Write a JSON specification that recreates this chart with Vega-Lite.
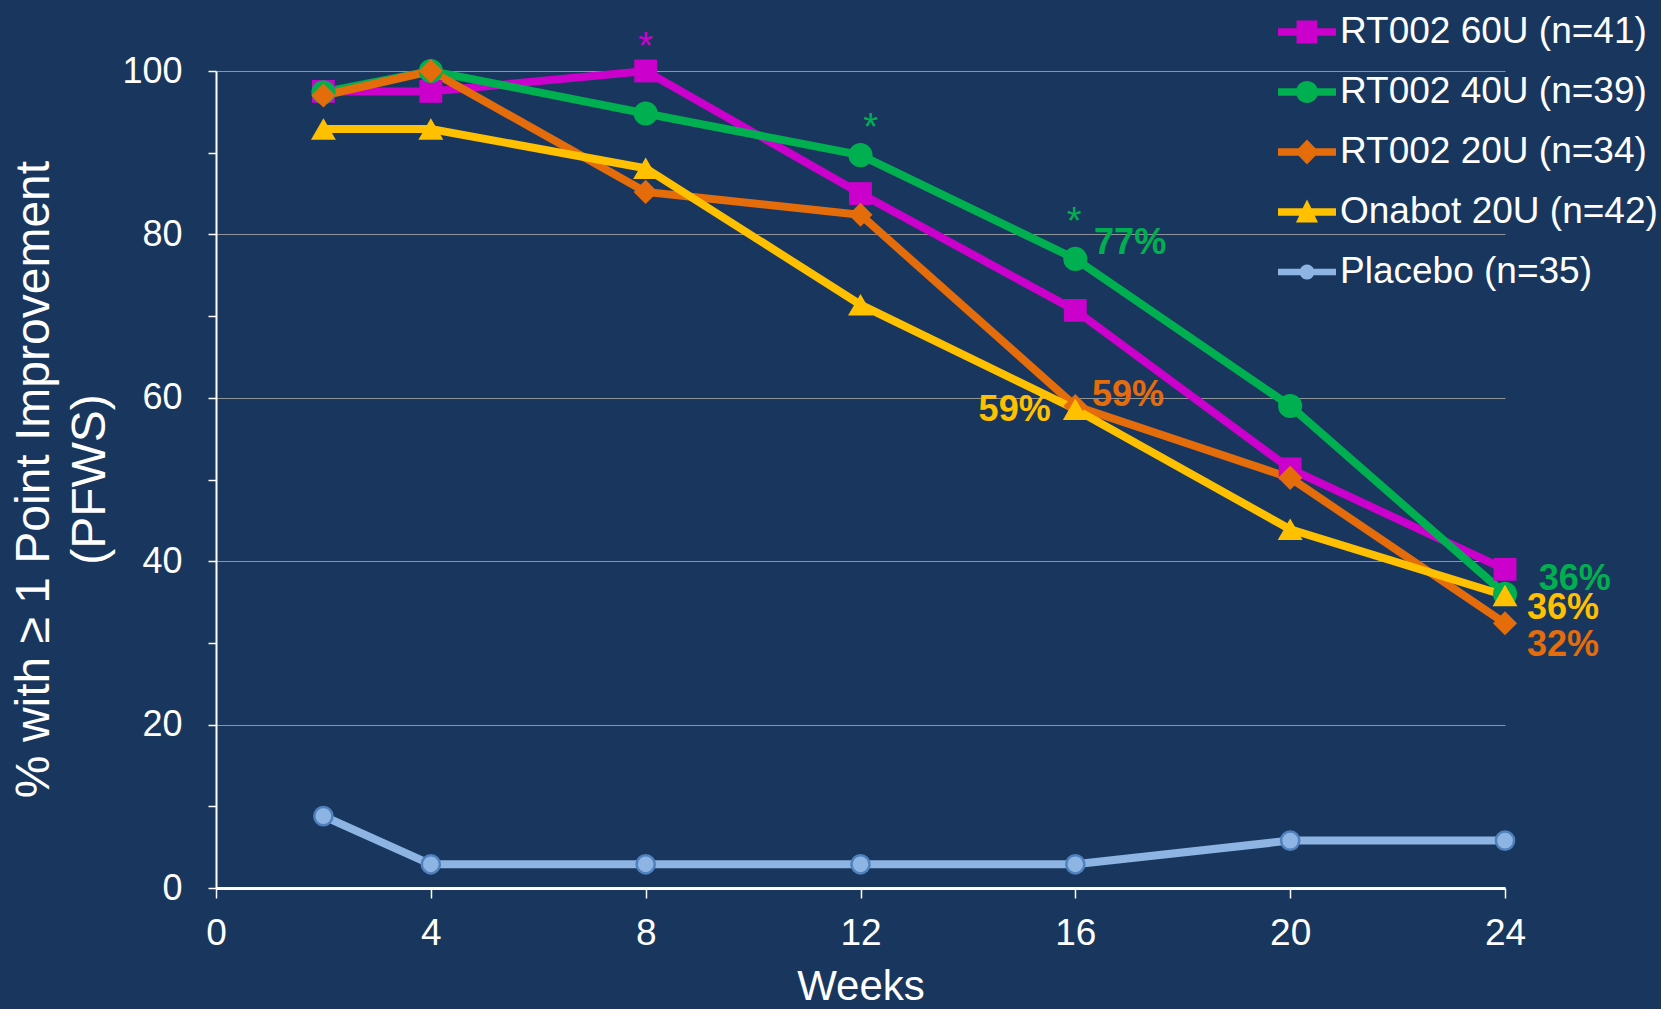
{
  "$schema": "https://vega.github.io/schema/vega-lite/v6.json",
  "width": 1289,
  "height": 817,
  "autosize": "none",
  "padding": {"left": 216, "top": 71, "right": 156, "bottom": 121},
  "background": "#19375e",
  "config": {"font": "Liberation Sans", "view": {"stroke": null}},
  "datasets": {
    "series": [
      {"series": "RT002 60U (n=41)", "week": 2, "value": 97.5},
      {"series": "RT002 60U (n=41)", "week": 4, "value": 97.5},
      {"series": "RT002 60U (n=41)", "week": 8, "value": 100},
      {"series": "RT002 60U (n=41)", "week": 12, "value": 85},
      {"series": "RT002 60U (n=41)", "week": 16, "value": 70.7},
      {"series": "RT002 60U (n=41)", "week": 20, "value": 51.3},
      {"series": "RT002 60U (n=41)", "week": 24, "value": 39},
      {"series": "RT002 40U (n=39)", "week": 2, "value": 97.4},
      {"series": "RT002 40U (n=39)", "week": 4, "value": 100},
      {"series": "RT002 40U (n=39)", "week": 8, "value": 94.8},
      {"series": "RT002 40U (n=39)", "week": 12, "value": 89.7},
      {"series": "RT002 40U (n=39)", "week": 16, "value": 77},
      {"series": "RT002 40U (n=39)", "week": 20, "value": 59},
      {"series": "RT002 40U (n=39)", "week": 24, "value": 36},
      {"series": "RT002 20U (n=34)", "week": 2, "value": 97},
      {"series": "RT002 20U (n=34)", "week": 4, "value": 100},
      {"series": "RT002 20U (n=34)", "week": 8, "value": 85.2},
      {"series": "RT002 20U (n=34)", "week": 12, "value": 82.4},
      {"series": "RT002 20U (n=34)", "week": 16, "value": 59},
      {"series": "RT002 20U (n=34)", "week": 20, "value": 50.2},
      {"series": "RT002 20U (n=34)", "week": 24, "value": 32.4},
      {"series": "Onabot 20U (n=42)", "week": 2, "value": 92.9},
      {"series": "Onabot 20U (n=42)", "week": 4, "value": 92.9},
      {"series": "Onabot 20U (n=42)", "week": 8, "value": 88.1},
      {"series": "Onabot 20U (n=42)", "week": 12, "value": 71.4},
      {"series": "Onabot 20U (n=42)", "week": 16, "value": 58.6},
      {"series": "Onabot 20U (n=42)", "week": 20, "value": 43.9},
      {"series": "Onabot 20U (n=42)", "week": 24, "value": 35.8},
      {"series": "Placebo (n=35)", "week": 2, "value": 8.8},
      {"series": "Placebo (n=35)", "week": 4, "value": 2.9},
      {"series": "Placebo (n=35)", "week": 8, "value": 2.9},
      {"series": "Placebo (n=35)", "week": 12, "value": 2.9},
      {"series": "Placebo (n=35)", "week": 16, "value": 2.9},
      {"series": "Placebo (n=35)", "week": 20, "value": 5.8},
      {"series": "Placebo (n=35)", "week": 24, "value": 5.8}
    ],
    "stars": [
      {"series": "RT002 60U (n=41)", "week": 8, "value": 101.5, "label": "*"},
      {"series": "RT002 40U (n=39)", "week": 12.19, "value": 91.5, "label": "*"},
      {"series": "RT002 40U (n=39)", "week": 15.98, "value": 80.1, "label": "*"}
    ],
    "pct": [
      {"series": "RT002 40U (n=39)", "week": 17.02, "value": 78.9, "label": "77%"},
      {"series": "RT002 20U (n=34)", "week": 16.98, "value": 60.3, "label": "59%"},
      {"series": "Onabot 20U (n=42)", "week": 14.87, "value": 58.5, "label": "59%"},
      {"series": "RT002 40U (n=39)", "week": 25.3, "value": 37.8, "label": "36%"},
      {"series": "Onabot 20U (n=42)", "week": 25.08, "value": 34.3, "label": "36%"},
      {"series": "RT002 20U (n=34)", "week": 25.08, "value": 29.7, "label": "32%"}
    ]
  },
  "encoding": {
    "x": {
      "field": "week",
      "type": "quantitative",
      "scale": {"domain": [0, 24], "nice": false, "zero": false},
      "axis": {
        "title": "Weeks",
        "values": [0, 4, 8, 12, 16, 20, 24],
        "grid": false,
        "domainColor": "white",
        "domainWidth": 3,
        "tickColor": "white",
        "tickSize": 10,
        "tickWidth": 1.5,
        "labelColor": "white",
        "labelFontSize": 37,
        "labelPadding": 17,
        "labelFlush": false,
        "titleColor": "white",
        "titleFontSize": 42,
        "titleFontWeight": "normal",
        "titlePadding": 15
      }
    },
    "y": {
      "field": "value",
      "type": "quantitative",
      "scale": {"domain": [0, 100], "nice": false},
      "axis": {
        "title": ["% with ≥ 1 Point  Improvement", "(PFWS)"],
        "values": [0, 10, 20, 30, 40, 50, 60, 70, 80, 90, 100],
        "labelExpr": "datum.value % 20 === 0 ? datum.label : ''",
        "grid": true,
        "gridColor": "#a6a6a6",
        "gridWidth": 1.2,
        "gridOpacity": {"condition": {"test": "datum.value % 20 === 0 && datum.value > 0", "value": 0.85}, "value": 0},
        "domainColor": "white",
        "domainWidth": 2,
        "tickColor": "white",
        "tickSize": 8,
        "tickWidth": 1.5,
        "labelColor": "white",
        "labelFontSize": 36,
        "labelPadding": 26,
        "labelFlush": false,
        "titleColor": "white",
        "titleFontSize": 48,
        "titleFontWeight": "normal",
        "titleLineHeight": 56,
        "titleBaseline": "middle",
        "titleX": -182,
        "titleY": 408
      }
    }
  },
  "layer": [
    {
      "data": {"name": "series"},
      "mark": {"type": "line", "strokeWidth": 8},
      "encoding": {
        "color": {
          "field": "series",
          "type": "nominal",
          "sort": null,
          "scale": {
            "domain": ["RT002 60U (n=41)", "RT002 40U (n=39)", "RT002 20U (n=34)", "Onabot 20U (n=42)", "Placebo (n=35)"],
            "range": ["#CC00CC", "#00B050", "#E46C0A", "#FFC000", "#8DB4E2"]
          }
        },
        "strokeWidth": {
          "condition": {"test": "datum.series === 'Placebo (n=35)'", "value": 6.5},
          "value": 8
        }
      }
    },
    {
      "data": {"name": "series"},
      "transform": [{"filter": "datum.series === 'RT002 60U (n=41)'"}],
      "mark": {"type": "point", "shape": "square", "filled": true, "opacity": 1, "size": 520},
      "encoding": {"color": {"field": "series", "type": "nominal", "sort": null}}
    },
    {
      "data": {"name": "series"},
      "transform": [{"filter": "datum.series === 'RT002 40U (n=39)'"}],
      "mark": {"type": "point", "shape": "circle", "filled": true, "opacity": 1, "size": 580},
      "encoding": {"color": {"field": "series", "type": "nominal", "sort": null}}
    },
    {
      "data": {"name": "series"},
      "transform": [{"filter": "datum.series === 'RT002 20U (n=34)'"}],
      "mark": {"type": "point", "shape": "diamond", "filled": true, "opacity": 1, "size": 580},
      "encoding": {"color": {"field": "series", "type": "nominal", "sort": null}}
    },
    {
      "data": {"name": "series"},
      "transform": [{"filter": "datum.series === 'Onabot 20U (n=42)'"}],
      "mark": {"type": "point", "shape": "triangle-up", "filled": true, "opacity": 1, "size": 620},
      "encoding": {"color": {"field": "series", "type": "nominal", "sort": null}}
    },
    {
      "data": {"name": "series"},
      "transform": [{"filter": "datum.series === 'Placebo (n=35)'"}],
      "mark": {"type": "point", "shape": "circle", "filled": true, "opacity": 1, "size": 330, "stroke": "#4F81BD", "strokeWidth": 2.5},
      "encoding": {"color": {"field": "series", "type": "nominal", "sort": null}}
    },
    {
      "data": {"name": "series"},
      "transform": [{"filter": "datum.week > 1000"}],
      "mark": {"type": "point", "filled": true, "opacity": 1, "size": 3364, "strokeWidth": 0},
      "encoding": {
        "color": {
          "field": "series",
          "type": "nominal",
          "sort": null,
          "legend": {
            "orient": "none",
            "legendX": 1062,
            "legendY": -68,
            "title": null,
            "labelColor": "white",
            "labelFontSize": 37,
            "labelFont": "Liberation Sans",
            "symbolSize": 3364,
            "symbolStrokeWidth": 0,
            "symbolOpacity": 1,
            "rowPadding": 13,
            "labelOffset": 4,
            "padding": 0,
            "labelLimit": 600
          }
        },
        "shape": {
          "field": "series",
          "type": "nominal",
          "sort": null,
          "scale": {
            "domain": ["RT002 60U (n=41)", "RT002 40U (n=39)", "RT002 20U (n=34)", "Onabot 20U (n=42)", "Placebo (n=35)"],
            "range": [
              "M-1,-0.13H-0.36V-0.4H0.36V-0.13H1V0.13H0.36V0.4H-0.36V0.13H-1Z",
              "M-1,-0.13H-0.357A0.38,0.38 0 0 1 0.357,-0.13H1V0.13H0.357A0.38,0.38 0 0 1 -0.357,0.13H-1Z",
              "M-1,-0.13H-0.29L0,-0.43L0.29,-0.13H1V0.13H0.29L0,0.43L-0.29,0.13H-1Z",
              "M-1,-0.13H-0.15L0,-0.43L0.15,-0.13H1V0.13H0.27L0.38,0.36H-0.38L-0.27,0.13H-1Z",
              "M-1,-0.11H-0.23A0.25,0.25 0 0 1 0.23,-0.11H1V0.11H0.23A0.25,0.25 0 0 1 -0.23,0.11H-1Z"
            ]
          },
          "legend": {
            "orient": "none",
            "legendX": 1062,
            "legendY": -68,
            "title": null,
            "labelColor": "white",
            "labelFontSize": 37,
            "labelFont": "Liberation Sans",
            "symbolSize": 3364,
            "symbolStrokeWidth": 0,
            "symbolOpacity": 1,
            "rowPadding": 13,
            "labelOffset": 4,
            "padding": 0,
            "labelLimit": 600
          }
        }
      }
    },
    {
      "data": {"name": "stars"},
      "mark": {"type": "text", "fontSize": 38, "baseline": "alphabetic", "align": "center"},
      "encoding": {
        "text": {"field": "label"},
        "color": {"field": "series", "type": "nominal", "sort": null}
      }
    },
    {
      "data": {"name": "pct"},
      "mark": {"type": "text", "fontSize": 36, "fontWeight": "bold", "baseline": "middle", "align": "center"},
      "encoding": {
        "text": {"field": "label"},
        "color": {"field": "series", "type": "nominal", "sort": null}
      }
    }
  ]
}
